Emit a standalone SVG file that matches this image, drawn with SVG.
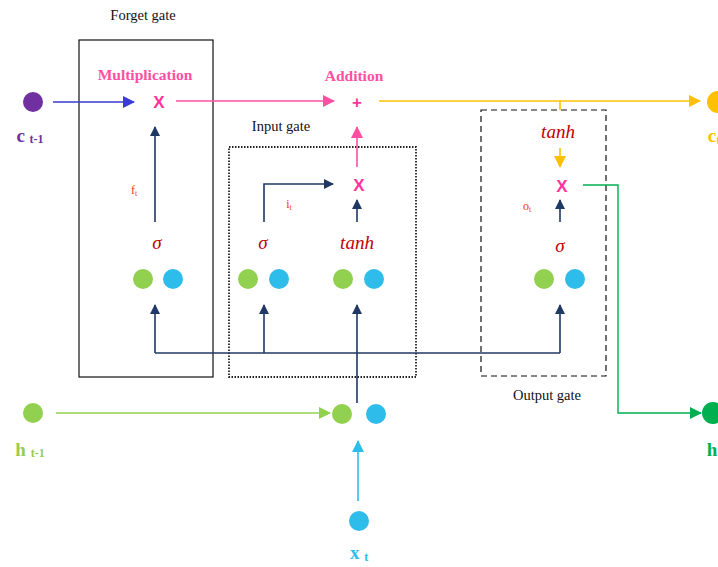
<svg xmlns="http://www.w3.org/2000/svg" width="718" height="567" viewBox="0 0 718 567">
  <defs>
    <style>
      .lbl { font-family: "Liberation Serif", serif; font-size: 14.5px; fill: #111; }
      .op { font-family: "Liberation Serif", serif; font-size: 15.5px; font-weight: bold; fill: #ff4fa3; }
      .x { font-family: "Liberation Sans", sans-serif; font-size: 17px; font-weight: bold; fill: #ff3399; }
      .fn { font-family: "Liberation Serif", serif; font-style: italic; font-size: 19px; fill: #c00000; }
      .sub { font-family: "Liberation Serif", serif; font-size: 12px; fill: #ff3300; }
      .var { font-family: "Liberation Serif", serif; font-weight: bold; font-size: 19px; }
      .vs { font-size: 12px; }
      .g { fill: #92d050; }
      .b { fill: #2ebdea; }
      .navy { stroke: #1f3864; stroke-width: 1.6; fill: none; }
      text { text-anchor: middle; }
    </style>
    <marker id="aNavy" markerWidth="10" markerHeight="10" refX="9" refY="5" orient="auto" markerUnits="userSpaceOnUse" viewBox="0 0 10 10">
      <path d="M0,0 L10,5 L0,10 z" fill="#1f3864"/>
    </marker>
    <marker id="aBlue" markerWidth="12" markerHeight="12" refX="11" refY="6" orient="auto" markerUnits="userSpaceOnUse" viewBox="0 0 12 12">
      <path d="M0,0 L12,6 L0,12 z" fill="#3a3ad6"/>
    </marker>
    <marker id="aPink" markerWidth="12" markerHeight="12" refX="11" refY="6" orient="auto" markerUnits="userSpaceOnUse" viewBox="0 0 12 12">
      <path d="M0,0 L12,6 L0,12 z" fill="#ff4fa3"/>
    </marker>
    <marker id="aYel" markerWidth="12" markerHeight="12" refX="11" refY="6" orient="auto" markerUnits="userSpaceOnUse" viewBox="0 0 12 12">
      <path d="M0,0 L12,6 L0,12 z" fill="#ffc000"/>
    </marker>
    <marker id="aGreen" markerWidth="12" markerHeight="12" refX="11" refY="6" orient="auto" markerUnits="userSpaceOnUse" viewBox="0 0 12 12">
      <path d="M0,0 L12,6 L0,12 z" fill="#92d050"/>
    </marker>
    <marker id="aDGreen" markerWidth="12" markerHeight="12" refX="11" refY="6" orient="auto" markerUnits="userSpaceOnUse" viewBox="0 0 12 12">
      <path d="M0,0 L12,6 L0,12 z" fill="#00b050"/>
    </marker>
    <marker id="aCyan" markerWidth="12" markerHeight="12" refX="11" refY="6" orient="auto" markerUnits="userSpaceOnUse" viewBox="0 0 12 12">
      <path d="M0,0 L12,6 L0,12 z" fill="#2ebdea"/>
    </marker>
  </defs>

  <!-- gate frames -->
  <g id="forget-gate">
    <rect x="79" y="40" width="134" height="337" fill="none" stroke="#111" stroke-width="1.2"/>
    <text class="lbl" x="143" y="20">Forget gate</text>
    <text class="op" x="145" y="80">Multiplication</text>
    <text class="x" x="159" y="108">X</text>
    <text class="sub" x="134" y="194">f<tspan font-size="8" dy="2">t</tspan></text>
    <text class="fn" x="157" y="249">σ</text>
    <circle class="g" cx="143" cy="279" r="10"/>
    <circle class="b" cx="173" cy="279" r="10"/>
  </g>

  <g id="input-gate">
    <rect x="229" y="147" width="187" height="230" fill="none" stroke="#222" stroke-width="1.8" stroke-dasharray="1.5 1.5"/>
    <text class="lbl" x="281" y="131">Input gate</text>
    <text class="sub" x="289" y="208">i<tspan font-size="8" dy="2">t</tspan></text>
    <text class="x" x="359" y="191">X</text>
    <text class="fn" x="263" y="249">σ</text>
    <text class="fn" x="357" y="249">tanh</text>
    <circle class="g" cx="248" cy="279" r="10"/>
    <circle class="b" cx="279" cy="279" r="10"/>
    <circle class="g" cx="343" cy="279" r="10"/>
    <circle class="b" cx="374" cy="279" r="10"/>
  </g>

  <g id="addition">
    <text class="op" x="354" y="81">Addition</text>
    <text class="x" x="357" y="108" font-size="16">+</text>
  </g>

  <g id="output-gate">
    <rect x="481" y="110" width="125" height="266" fill="none" stroke="#111" stroke-width="1.2" stroke-dasharray="6 4"/>
    <text class="lbl" x="547" y="400">Output gate</text>
    <text class="fn" x="558" y="138">tanh</text>
    <text class="x" x="562" y="192">X</text>
    <text class="sub" x="527" y="210">o<tspan font-size="8" dy="2">t</tspan></text>
    <text class="fn" x="560" y="252">σ</text>
    <circle class="g" cx="544" cy="279" r="10"/>
    <circle class="b" cx="575" cy="279" r="10"/>
  </g>

  <g id="c-prev">
    <circle cx="33" cy="102" r="10" fill="#7030a0"/>
    <text class="var" x="30" y="142" fill="#7030a0">c <tspan class="vs" dy="1">t-1</tspan></text>
  </g>

  <g id="c-next">
    <circle cx="718" cy="102" r="11" fill="#ffc000"/>
    <text class="var" x="714" y="142" fill="#ffc000">c<tspan class="vs" dy="2">t</tspan></text>
  </g>

  <g id="h-prev">
    <circle cx="33" cy="413" r="10" fill="#92d050"/>
    <text class="var" x="30" y="456" fill="#92d050">h <tspan class="vs" dy="1">t-1</tspan></text>
  </g>

  <g id="h-next">
    <circle cx="713" cy="413" r="11" fill="#00b050"/>
    <text class="var" x="712" y="456" fill="#00b050">h</text>
  </g>

  <g id="concat">
    <circle class="g" cx="342" cy="414" r="10"/>
    <circle class="b" cx="376" cy="414" r="10"/>
  </g>

  <g id="x-in">
    <circle class="b" cx="359" cy="521" r="10"/>
    <text class="var" x="359" y="559" fill="#2ebdea">x <tspan class="vs" dy="2">t</tspan></text>
  </g>

  <!-- connectors -->
  <g id="connectors" fill="none">
    <line x1="53" y1="102" x2="134" y2="102" stroke="#3a3ad6" stroke-width="1.6" marker-end="url(#aBlue)"/>
    <line x1="176" y1="101" x2="334" y2="101" stroke="#ff4fa3" stroke-width="1.6" marker-end="url(#aPink)"/>
    <line x1="379" y1="101" x2="700" y2="101" stroke="#ffc000" stroke-width="1.6" marker-end="url(#aYel)"/>
    <line x1="560" y1="101" x2="560" y2="110" stroke="#ffc000" stroke-width="1.6"/>
    <line x1="560" y1="148" x2="560" y2="167" stroke="#ffc000" stroke-width="1.6" marker-end="url(#aYel)"/>
    <line x1="357" y1="167" x2="357" y2="127" stroke="#ff4fa3" stroke-width="1.6" marker-end="url(#aPink)"/>
    <polyline points="583,185 618,185 618,413 701,413" stroke="#00b050" stroke-width="1.4" marker-end="url(#aDGreen)"/>
    <line x1="56" y1="413" x2="330" y2="413" stroke="#92d050" stroke-width="1.6" marker-end="url(#aGreen)"/>
    <line x1="358" y1="501" x2="358" y2="441" stroke="#2ebdea" stroke-width="1.6" marker-end="url(#aCyan)"/>

    <!-- gate activations into the products -->
    <line class="navy" x1="155" y1="222" x2="155" y2="127" marker-end="url(#aNavy)"/>
    <polyline class="navy" points="264,222 264,184 333,184" marker-end="url(#aNavy)"/>
    <line class="navy" x1="357" y1="222" x2="357" y2="200" marker-end="url(#aNavy)"/>
    <line class="navy" x1="560" y1="222" x2="560" y2="200" marker-end="url(#aNavy)"/>

    <!-- concatenated input fanned out to the four layers -->
    <line class="navy" x1="357" y1="403" x2="357" y2="305" marker-end="url(#aNavy)"/>
    <polyline class="navy" points="155,353 560,353"/>
    <line class="navy" x1="155" y1="353" x2="155" y2="305" marker-end="url(#aNavy)"/>
    <line class="navy" x1="264" y1="353" x2="264" y2="305" marker-end="url(#aNavy)"/>
    <line class="navy" x1="560" y1="353" x2="560" y2="305" marker-end="url(#aNavy)"/>
  </g>
</svg>
